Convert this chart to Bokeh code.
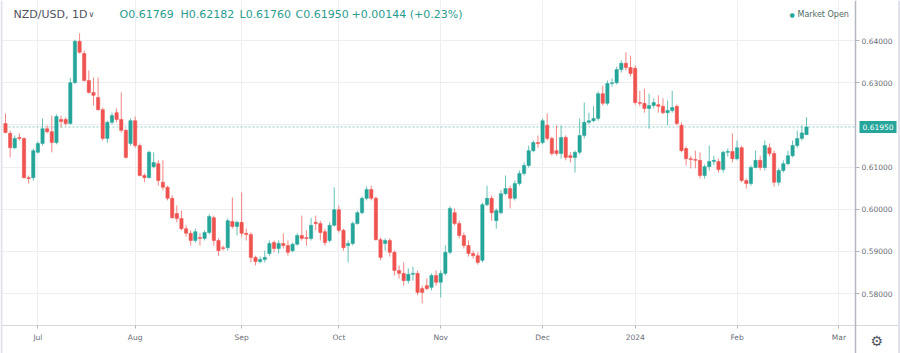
from bokeh.plotting import figure
from bokeh.models import (ColumnDataSource, FixedTicker, NumeralTickFormatter, Span, Label,
                          Range1d, LinearAxis, Grid, BoxAnnotation)
from bokeh.embed import file_html
from bokeh.resources import INLINE

# ---- data (NZD/USD daily candles) ----
opens = [0.6203, 0.6180, 0.6146, 0.6170, 0.6168, 0.6075, 0.6075, 0.6135, 0.6156, 0.6191,
         0.6184, 0.6158, 0.6213, 0.6213, 0.6203, 0.6300, 0.6398, 0.6369, 0.6305, 0.6277,
         0.6265, 0.6236, 0.6168, 0.6206, 0.6229, 0.6213, 0.6187, 0.6156, 0.6210, 0.6151,
         0.6080, 0.6075, 0.6101, 0.6108, 0.6064, 0.6052, 0.6026, 0.5990, 0.5978, 0.5954,
         0.5943, 0.5926, 0.5933, 0.5931, 0.5945, 0.5980, 0.5926, 0.5909, 0.5909, 0.5971,
         0.5959, 0.5969, 0.5943, 0.5940, 0.5886, 0.5876, 0.5881, 0.5895, 0.5921, 0.5907,
         0.5919, 0.5914, 0.5902, 0.5917, 0.5938, 0.5933, 0.5931, 0.5969, 0.5966, 0.5947,
         0.5926, 0.5962, 0.5999, 0.5950, 0.5914, 0.5919, 0.5966, 0.5992, 0.6026, 0.6047,
         0.6026, 0.5928, 0.5919, 0.5926, 0.5898, 0.5855, 0.5848, 0.5831, 0.5846, 0.5848,
         0.5812, 0.5819, 0.5815, 0.5843, 0.5827, 0.5848, 0.5898, 0.5992, 0.5966, 0.5938,
         0.5914, 0.5895, 0.5890, 0.5879, 0.6011, 0.6026, 0.5973, 0.5992, 0.6037, 0.6049,
         0.6026, 0.6061, 0.6085, 0.6104, 0.6139, 0.6158, 0.6158, 0.6199, 0.6168, 0.6139,
         0.6132, 0.6170, 0.6127, 0.6123, 0.6135, 0.6175, 0.6206, 0.6210, 0.6215, 0.6274,
         0.6251, 0.6298, 0.6300, 0.6331, 0.6346, 0.6336, 0.6334, 0.6253, 0.6251, 0.6239,
         0.6246, 0.6248, 0.6244, 0.6229, 0.6234, 0.6244, 0.6199, 0.6144, 0.6120, 0.6118,
         0.6116, 0.6080, 0.6101, 0.6113, 0.6113, 0.6094, 0.6135, 0.6137, 0.6120, 0.6146,
         0.6068, 0.6061, 0.6099, 0.6116, 0.6099, 0.6146, 0.6132, 0.6064, 0.6092, 0.6108,
         0.6127, 0.6151, 0.6168, 0.61769]
highs = [0.6227, 0.6187, 0.6175, 0.6180, 0.6170, 0.6080, 0.6144, 0.6161, 0.6215, 0.6199,
         0.6222, 0.6225, 0.6222, 0.6218, 0.6312, 0.6402, 0.6417, 0.6376, 0.6329, 0.6312,
         0.6312, 0.6241, 0.6210, 0.6229, 0.6239, 0.6277, 0.6191, 0.6215, 0.6220, 0.6156,
         0.6085, 0.6139, 0.6135, 0.6116, 0.6116, 0.6056, 0.6033, 0.6009, 0.5997, 0.5962,
         0.5950, 0.5954, 0.5943, 0.5950, 0.5988, 0.5985, 0.5931, 0.5914, 0.5978, 0.6028,
         0.5973, 0.6040, 0.5954, 0.5945, 0.5890, 0.5888, 0.5902, 0.5926, 0.5926, 0.5926,
         0.5943, 0.5926, 0.5921, 0.5943, 0.5985, 0.5950, 0.5980, 0.5985, 0.5973, 0.5954,
         0.5969, 0.6052, 0.6009, 0.5954, 0.5926, 0.5971, 0.5997, 0.6030, 0.6054, 0.6056,
         0.6030, 0.5933, 0.5931, 0.5931, 0.5902, 0.5867, 0.5874, 0.5860, 0.5864, 0.5855,
         0.5819, 0.5836, 0.5848, 0.5855, 0.5855, 0.5914, 0.6007, 0.6002, 0.5973, 0.5945,
         0.5926, 0.5902, 0.5898, 0.6016, 0.6056, 0.6033, 0.6002, 0.6045, 0.6080, 0.6056,
         0.6068, 0.6092, 0.6111, 0.6151, 0.6163, 0.6175, 0.6215, 0.6227, 0.6172, 0.6199,
         0.6199, 0.6175, 0.6135, 0.6139, 0.6215, 0.6253, 0.6229, 0.6244, 0.6279, 0.6293,
         0.6305, 0.6310, 0.6338, 0.6353, 0.6372, 0.6364, 0.6341, 0.6281, 0.6286, 0.6274,
         0.6263, 0.6270, 0.6263, 0.6258, 0.6281, 0.6248, 0.6206, 0.6149, 0.6127, 0.6139,
         0.6135, 0.6106, 0.6151, 0.6127, 0.6120, 0.6139, 0.6144, 0.6180, 0.6163, 0.6151,
         0.6073, 0.6104, 0.6139, 0.6127, 0.6163, 0.6156, 0.6139, 0.6097, 0.6116, 0.6139,
         0.6163, 0.6187, 0.6199, 0.62182]
lows = [0.6180, 0.6123, 0.6142, 0.6163, 0.6073, 0.6061, 0.6068, 0.6132, 0.6151, 0.6180,
        0.6135, 0.6154, 0.6194, 0.6199, 0.6201, 0.6298, 0.6369, 0.6303, 0.6274, 0.6246,
        0.6234, 0.6163, 0.6158, 0.6201, 0.6206, 0.6182, 0.6120, 0.6151, 0.6146, 0.6078,
        0.6064, 0.6073, 0.6097, 0.6056, 0.6045, 0.6021, 0.5978, 0.5969, 0.5950, 0.5935,
        0.5914, 0.5921, 0.5914, 0.5926, 0.5940, 0.5914, 0.5890, 0.5902, 0.5902, 0.5954,
        0.5938, 0.5935, 0.5926, 0.5874, 0.5867, 0.5872, 0.5874, 0.5890, 0.5898, 0.5895,
        0.5907, 0.5890, 0.5898, 0.5914, 0.5926, 0.5914, 0.5926, 0.5950, 0.5926, 0.5914,
        0.5921, 0.5959, 0.5945, 0.5902, 0.5874, 0.5914, 0.5964, 0.5988, 0.6021, 0.6021,
        0.5926, 0.5879, 0.5902, 0.5888, 0.5843, 0.5836, 0.5819, 0.5824, 0.5831, 0.5796,
        0.5777, 0.5808, 0.5808, 0.5819, 0.5791, 0.5843, 0.5893, 0.5962, 0.5931, 0.5907,
        0.5888, 0.5883, 0.5869, 0.5874, 0.6007, 0.5973, 0.5954, 0.5988, 0.6033, 0.6002,
        0.6021, 0.6056, 0.6080, 0.6099, 0.6135, 0.6146, 0.6154, 0.6163, 0.6127, 0.6127,
        0.6120, 0.6116, 0.6111, 0.6087, 0.6130, 0.6168, 0.6201, 0.6206, 0.6210, 0.6246,
        0.6246, 0.6291, 0.6296, 0.6324, 0.6329, 0.6315, 0.6248, 0.6244, 0.6229, 0.6191,
        0.6239, 0.6229, 0.6225, 0.6199, 0.6229, 0.6199, 0.6135, 0.6104, 0.6097, 0.6097,
        0.6073, 0.6073, 0.6092, 0.6104, 0.6087, 0.6087, 0.6125, 0.6111, 0.6116, 0.6064,
        0.6049, 0.6056, 0.6097, 0.6092, 0.6092, 0.6125, 0.6054, 0.6056, 0.6087, 0.6104,
        0.6123, 0.6146, 0.6163, 0.61760]
closes = [0.6182, 0.6146, 0.6168, 0.6168, 0.6075, 0.6073, 0.6139, 0.6156, 0.6191, 0.6184,
          0.6158, 0.6220, 0.6208, 0.6203, 0.6300, 0.6398, 0.6372, 0.6305, 0.6277, 0.6270,
          0.6236, 0.6168, 0.6206, 0.6222, 0.6213, 0.6187, 0.6123, 0.6210, 0.6151, 0.6080,
          0.6075, 0.6135, 0.6111, 0.6068, 0.6052, 0.6026, 0.5980, 0.5978, 0.5954, 0.5943,
          0.5926, 0.5947, 0.5931, 0.5945, 0.5983, 0.5926, 0.5902, 0.5907, 0.5973, 0.5959,
          0.5969, 0.5943, 0.5940, 0.5886, 0.5876, 0.5881, 0.5886, 0.5919, 0.5907, 0.5919,
          0.5914, 0.5898, 0.5917, 0.5938, 0.5931, 0.5931, 0.5962, 0.5966, 0.5945, 0.5921,
          0.5962, 0.5999, 0.5950, 0.5909, 0.5919, 0.5966, 0.5992, 0.6026, 0.6047, 0.6026,
          0.5928, 0.5886, 0.5926, 0.5898, 0.5855, 0.5848, 0.5831, 0.5846, 0.5848, 0.5803,
          0.5803, 0.5812, 0.5843, 0.5827, 0.5848, 0.5898, 0.6002, 0.5966, 0.5938, 0.5914,
          0.5895, 0.5890, 0.5874, 0.6011, 0.6026, 0.5992, 0.5997, 0.6037, 0.6049, 0.6026,
          0.6061, 0.6085, 0.6104, 0.6139, 0.6158, 0.6156, 0.6210, 0.6168, 0.6132, 0.6132,
          0.6170, 0.6123, 0.6123, 0.6135, 0.6175, 0.6206, 0.6210, 0.6215, 0.6274, 0.6251,
          0.6298, 0.6300, 0.6331, 0.6346, 0.6336, 0.6322, 0.6253, 0.6251, 0.6239, 0.6246,
          0.6253, 0.6244, 0.6229, 0.6234, 0.6241, 0.6203, 0.6139, 0.6120, 0.6118, 0.6116,
          0.6080, 0.6101, 0.6113, 0.6116, 0.6094, 0.6135, 0.6137, 0.6120, 0.6146, 0.6068,
          0.6061, 0.6099, 0.6116, 0.6099, 0.6151, 0.6132, 0.6064, 0.6092, 0.6108, 0.6127,
          0.6151, 0.6168, 0.6181, 0.61950]

month_ticks = [7, 28, 51, 72, 94, 116, 136, 158, 180]
month_labels = ["Jul", "Aug", "Sep", "Oct", "Nov", "Dec", "2024", "Feb", "Mar"]
price_ticks = [0.58, 0.59, 0.60, 0.61, 0.63, 0.64]
grid_prices = [0.58, 0.59, 0.60, 0.61, 0.62, 0.63, 0.64]

symbol_text = "NZD/USD, 1D"
ohlc_texts = ["O0.61769", "H0.62182", "L0.61760", "C0.61950", "+0.00144 (+0.23%)"]
last_close = closes[-1]

# ---- layout / style constants ----
W, H = 900, 353
PANE_W, PANE_H = 855, 325          # candle pane; price scale right of it, time scale below
BAR_PX, FIRST_BAR_PX = 4.63, 5.0   # pixel spacing of bars, pixel x of first bar
Y_TOP, PRICE_PER_PX = 0.64948, 0.000237

x_start = -FIRST_BAR_PX / BAR_PX
x_end = x_start + W / BAR_PX
x_pane_end = x_start + PANE_W / BAR_PX
y_end = Y_TOP
y_start = Y_TOP - H * PRICE_PER_PX
y_pane_bottom = Y_TOP - PANE_H * PRICE_PER_PX

UP = "#26a69a"
DOWN = "#ef5350"
FONT = "DejaVu Sans"
GRID = "#eceef2"
SCALE_LINE = "#b4b7be"

idx = list(range(len(closes)))
colors = [UP if c >= o else DOWN for o, c in zip(opens, closes)]
src = ColumnDataSource(dict(
    x=idx, high=highs, low=lows,
    top=[max(o, c) for o, c in zip(opens, closes)],
    bottom=[min(o, c) for o, c in zip(opens, closes)],
    color=colors,
))

p = figure(width=W, height=H,
           x_range=Range1d(x_start, x_end), y_range=Range1d(y_start, y_end),
           output_backend="svg", toolbar_location=None,
           x_axis_location=None, y_axis_location=None,
           min_border=0, min_border_left=0, min_border_right=0,
           min_border_top=0, min_border_bottom=0,
           background_fill_color="white", border_fill_color="white",
           outline_line_color=None)
p.grid.visible = False

# grids
p.add_layout(Grid(dimension=0, ticker=FixedTicker(ticks=month_ticks), grid_line_color=GRID))
p.add_layout(Grid(dimension=1, ticker=FixedTicker(ticks=grid_prices), grid_line_color=GRID))

# last price dashed line (under the scale covers)
p.add_layout(Span(location=last_close, dimension="width", line_color=UP, level="underlay",
                  line_alpha=0.55, line_dash="2 2", line_width=1))

# white backgrounds of price scale and time scale
p.add_layout(BoxAnnotation(left=x_pane_end, level="underlay", fill_color="white",
                           fill_alpha=1.0, line_color=None))
p.add_layout(BoxAnnotation(top=y_pane_bottom, level="underlay", fill_color="white",
                           fill_alpha=1.0, line_color=None))

# outer border lines
p.add_layout(Span(location=x_start + 1.0 / BAR_PX, dimension="height",
                  line_color="#e0e3eb", line_width=2))
p.add_layout(Span(location=x_end - 1.5 / BAR_PX, dimension="height",
                  line_color="#e0e3eb", line_width=2))

# x axis (time scale)
xa = LinearAxis(fixed_location=y_pane_bottom)
xa.ticker = FixedTicker(ticks=month_ticks)
xa.major_label_overrides = {t: l for t, l in zip(month_ticks, month_labels)}
xa.minor_tick_line_color = None
xa.major_tick_in = 0
xa.major_tick_out = 3
xa.major_tick_line_color = "#b2b5be"
xa.axis_line_color = "#d6d8de"
xa.major_label_standoff = 4
xa.major_label_text_font = FONT
xa.major_label_text_font_size = "7.5px"
xa.major_label_text_color = "#6a6d78"
p.add_layout(xa, "below")

# y axis (price scale)
ya = LinearAxis(fixed_location=x_pane_end)
ya.ticker = FixedTicker(ticks=price_ticks)
ya.formatter = NumeralTickFormatter(format="0.00000")
ya.minor_tick_line_color = None
ya.major_tick_in = 0
ya.major_tick_out = 4
ya.major_tick_line_color = "#b2b5be"
ya.axis_line_color = SCALE_LINE
ya.axis_line_width = 1.5
ya.major_label_standoff = 2
ya.major_label_text_font = FONT
ya.major_label_text_font_size = "7.5px"
ya.major_label_text_color = "#6a6d78"
p.add_layout(ya, "right")

# candles
p.segment(x0="x", y0="low", x1="x", y1="high", source=src, line_color="color",
          line_alpha=0.7, line_width=1)
p.vbar(x="x", width=0.72, top="top", bottom="bottom", source=src,
       fill_color="color", line_color="color", line_width=0.5)

# price label on price scale
p.add_layout(Label(x=PANE_W + 4, y=last_close, x_units="screen", y_units="data",
                   text=f"{last_close:.5f}", text_color="white", text_font=FONT,
                   text_font_size="7.5px", text_baseline="middle",
                   background_fill_color=UP, padding=3))

# header
HY = H - 14
p.add_layout(Label(x=13, y=HY, x_units="screen", y_units="screen", text=symbol_text,
                   text_font=FONT, text_font_size="11px", text_color="#50535e",
                   text_baseline="middle"))
p.add_layout(Label(x=88, y=HY, x_units="screen", y_units="screen", text="\u2228",
                   text_font=FONT, text_font_size="8px", text_color="#50535e",
                   text_baseline="middle"))
ohlc_x = [119, 180, 239, 295, 351]
for xx, t in zip(ohlc_x, ohlc_texts):
    p.add_layout(Label(x=xx, y=HY, x_units="screen", y_units="screen", text=t,
                       text_font=FONT, text_font_size="11px", text_color="#2a9d8f",
                       text_baseline="middle"))
p.add_layout(Label(x=789, y=HY, x_units="screen", y_units="screen", text="\u25cf",
                   text_font=FONT, text_font_size="6px", text_color=UP,
                   text_baseline="middle"))
p.add_layout(Label(x=797, y=HY, x_units="screen", y_units="screen", text="Market Open",
                   text_font=FONT, text_font_size="8px", text_color="#4d6b63",
                   text_baseline="middle"))
# settings gear in the corner
p.add_layout(Label(x=870, y=13, x_units="screen", y_units="screen", text="\u2699",
                   text_font=FONT, text_font_size="14px", text_color="#50535e",
                   text_baseline="middle"))

open("out.html", "w").write(file_html(p, INLINE))
